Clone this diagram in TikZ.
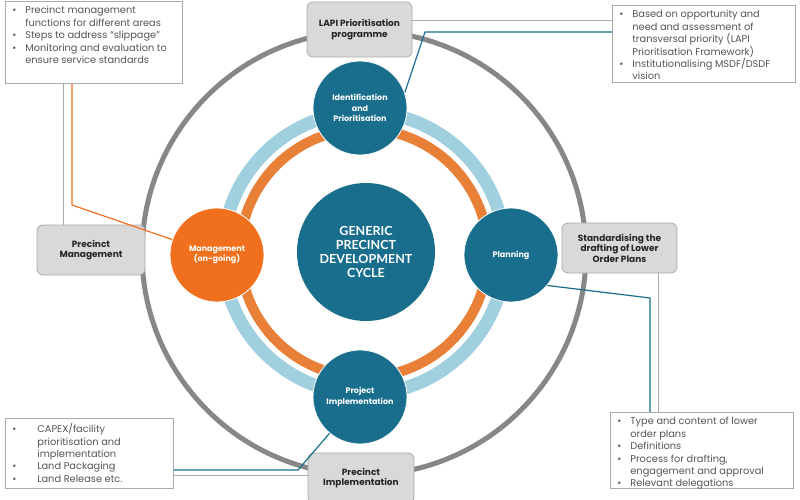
\documentclass[tikz,border=0pt]{standalone}
\usepackage{fontspec}
\setmainfont{Poppins}
\newfontfamily\cyclefont{Lato}

\definecolor{cycleteal}{RGB}{24,110,140}
\definecolor{cycleorange}{RGB}{240,112,30}
\definecolor{ringblue}{RGB}{160,208,224}
\definecolor{ringorange}{RGB}{232,128,56}
\definecolor{ringgray}{RGB}{135,135,135}
\definecolor{boxfill}{RGB}{217,217,217}
\definecolor{boxline}{RGB}{170,170,170}
\definecolor{notetext}{RGB}{85,85,85}

\newcommand{\bitem}[2][15pt]{\par\hangindent=#1\hangafter=1\noindent\makebox[#1][l]{\hspace{2pt}\textbullet}#2}

\begin{document}
\begin{tikzpicture}[x=1pt,y=-1pt,
  stage/.style={circle,fill=cycleteal,draw=white,line width=0.8pt,text=white,minimum size=94pt,inner sep=0pt,align=center,font=\bfseries\fontsize{8}{10.5}\selectfont},
  label/.style={draw=boxline,fill=boxfill,rounded corners=6pt,line width=0.8pt,align=center,text=black!85,font=\bfseries\fontsize{9}{10.5}\selectfont},
  note/.style={draw=boxline,line width=0.8pt,fill=white,anchor=north west,inner sep=5pt,text=notetext,font=\fontsize{9.8}{12.4}\selectfont},
  tealline/.style={cycleteal,line width=1.2pt},
  grayline/.style={boxline,line width=0.8pt},
  orangeline/.style={cycleorange,line width=1.2pt}]

\useasboundingbox (0,0) rectangle (800,500);

\draw[ringgray,line width=5pt] (364,253) circle[radius=222];
\draw[ringblue,line width=13pt] (364,253) circle[radius=141];
\draw[ringorange,line width=10pt] (364,253) circle[radius=124];

\node[note] (tl) at (5,1) {\parbox[t][72pt][t]{167pt}{\raggedright
  \bitem{Precinct management\newline functions for different areas}
  \bitem{Steps to address “slippage”}
  \bitem{Monitoring and evaluation to\newline ensure service standards}}};

\node[note] (tr) at (612,5) {\parbox[t][67pt][t]{173pt}{\raggedright
  \bitem{Based on opportunity and\newline need and assessment of\newline transversal priority (LAPI\newline Prioritisation Framework)}
  \bitem{Institutionalising MSDF/DSDF\newline vision}}};

\node[note] (bl) at (5,418) {\parbox[t][60pt][t]{158pt}{\raggedright
  \bitem[27pt]{CAPEX/facility\newline prioritisation and\newline implementation}
  \bitem[27pt]{Land Packaging}
  \bitem[27pt]{Land Release etc.}}};

\node[note] (br) at (610,412) {\parbox[t][66pt][t]{173pt}{\raggedright
  \bitem{Type and content of lower\newline order plans}
  \bitem{Definitions}
  \bitem{Process for drafting,\newline engagement and approval}
  \bitem{Relevant delegations}}};

\node[label,minimum width=105pt,minimum height=55pt] (lapi) at (359.5,29.5) {LAPI Prioritisation\\programme};
\node[label,minimum width=108pt,minimum height=50pt] (pm) at (91,250) {Precinct\\Management};
\node[label,minimum width=115pt,minimum height=50pt] (std) at (619.5,248) {Standardising the\\drafting of Lower\\Order Plans};
\node[label,minimum width=106pt,minimum height=50pt] (pi) at (361,478) {Precinct\\Implementation};

\coordinate (kI) at (425,32);
\coordinate (kM) at (72,205);
\coordinate (kP) at (650,298);
\coordinate (kJ) at (298,470);
\coordinate (kT) at ([xshift=58pt]tl.south west);
\coordinate (kS) at ([xshift=-19pt]std.south east);

\node[stage] (ident) at (360,108) {Identification\\and\\Prioritisation};
\node[stage] (plan) at (511,255) {Planning};
\node[stage,fill=cycleorange] (mgmt) at (217,255) {Management\\(on-going)};
\node[stage] (proj) at (360,397) {Project\\Implementation};
\node[circle,fill=cycleteal,minimum size=138pt,inner sep=0pt,text=white,align=center,font=\cyclefont\bfseries\fontsize{12.5}{14.3}\selectfont] (hub) at (366,252) {GENERIC\\PRECINCT\\DEVELOPMENT\\CYCLE};

\draw[grayline] ([yshift=9.5pt]lapi.east) -- ([yshift=9.5pt]lapi.east -| tr.west);
\draw[tealline] (ident.19) -- (kI) -- (kI -| tr.west);
\draw[grayline] (kT) -- (kT |- pm.north);
\draw[orangeline] ([xshift=67pt]tl.south west) -- (kM) -- (mgmt);
\draw[grayline] (kS) -- (kS |- br.north);
\draw[tealline] (plan.-40) -- (kP) -- (kP |- br.north);
\draw[tealline] (proj.230) -- (kJ) -- (kJ -| bl.east);
\draw[grayline] ([yshift=3pt]pi.west) -- ([yshift=3pt]pi.west -| bl.east);

\end{tikzpicture}
\end{document}
